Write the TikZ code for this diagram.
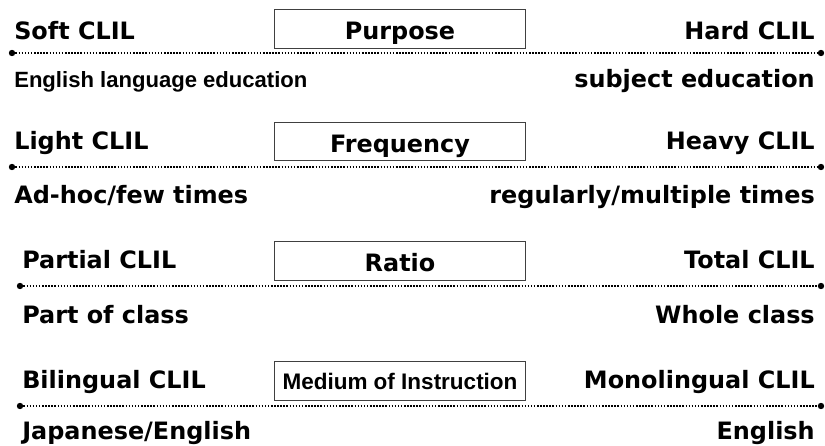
\documentclass[tikz,border=0pt]{standalone}
\usepackage{fontspec}
\setmainfont{DejaVu Sans}
\newfontfamily\narrowfont{Liberation Sans}
\begin{document}
\begin{tikzpicture}[
  x=0.025cm, y=-0.025cm,
  headbox/.style={rectangle, draw=black!75, line width=0.7pt, minimum width=6.25cm,
    minimum height=0.97cm, inner sep=0pt, text height=15pt, text depth=0pt,
    font=\fontsize{17}{20}\selectfont\bfseries},
  polelabel/.style={inner sep=0pt, font=\fontsize{17}{20}\selectfont\bfseries},
  narrowlabel/.style={inner sep=0pt, font=\narrowfont\fontsize{15.7}{19}\selectfont\bfseries},
  enddot/.style={circle, fill=black, inner sep=0pt, minimum size=0.16cm},
  scaleline/.style={line width=1.3pt, dash pattern=on 1.1pt off 1.1pt},
]
\useasboundingbox (0,0) rectangle (825,446);

% Vertical positions of the four scales
\def\linea{53}
\def\lineb{167}
\def\linec{286}
\def\lined{406}

% Horizontal positions
\def\xmid{400}
\def\xright{821}
\def\xtextR{815}

% ============================================================
% Scale A: Purpose
% ============================================================
\node[headbox] (boxa) at (\xmid, 29) {Purpose};
\node[polelabel, anchor=base west] (softa) at (14, 40) {Soft CLIL};
\node[polelabel, anchor=base east] (harda) at (\xtextR, 40) {Hard CLIL};

\node[enddot] (la) at (12, \linea) {};
\node[enddot] (ra) at (\xright, \linea) {};
\draw[scaleline] (la) -- (ra);

\node[narrowlabel, anchor=base west] (desca) at (14, 88) {English language education};
\node[polelabel, anchor=base east] (descra) at (\xtextR, 88) {subject education};

% ============================================================
% Scale B: Frequency
% ============================================================
\node[headbox] (boxb) at (\xmid, 141.5) {Frequency};
\node[polelabel, anchor=base west] (lightb) at (14, 150) {Light CLIL};
\node[polelabel, anchor=base east] (heavyb) at (\xtextR, 150) {Heavy CLIL};

\node[enddot] (lb) at (12, \lineb) {};
\node[enddot] (rb) at (\xright, \lineb) {};
\draw[scaleline] (lb) -- (rb);

\node[polelabel, anchor=base west] (descb) at (14, 204) {Ad-hoc/few times};
\node[polelabel, anchor=base east] (descrb) at (\xtextR, 204) {regularly/multiple times};

% ============================================================
% Scale C: Ratio
% ============================================================
\node[headbox] (boxc) at (\xmid, 261) {Ratio};
\node[polelabel, anchor=base west] (partc) at (22, 269) {Partial CLIL};
\node[polelabel, anchor=base east] (totalc) at (\xtextR, 269) {Total CLIL};

\node[enddot] (lc) at (20, \linec) {};
\node[enddot] (rc) at (\xright, \linec) {};
\draw[scaleline] (lc) -- (rc);

\node[polelabel, anchor=base west] (descc) at (22, 324) {Part of class};
\node[polelabel, anchor=base east] (descrc) at (\xtextR, 324) {Whole class};

% ============================================================
% Scale D: Medium of Instruction
% ============================================================
\node[headbox, text height=12.5pt, font=\narrowfont\fontsize{16}{19}\selectfont\bfseries] (boxd) at (\xmid, 381) {Medium of Instruction};
\node[polelabel, anchor=base west] (bild) at (22, 389) {Bilingual CLIL};
\node[polelabel, anchor=base east] (monod) at (\xtextR, 389) {Monolingual CLIL};

\node[enddot] (ld) at (20, \lined) {};
\node[enddot] (rd) at (\xright, \lined) {};
\draw[scaleline] (ld) -- (rd);

\node[polelabel, anchor=base west] (descd) at (22, 440) {Japanese/English};
\node[polelabel, anchor=base east] (descrd) at (\xtextR, 440) {English};

\end{tikzpicture}
\end{document}
